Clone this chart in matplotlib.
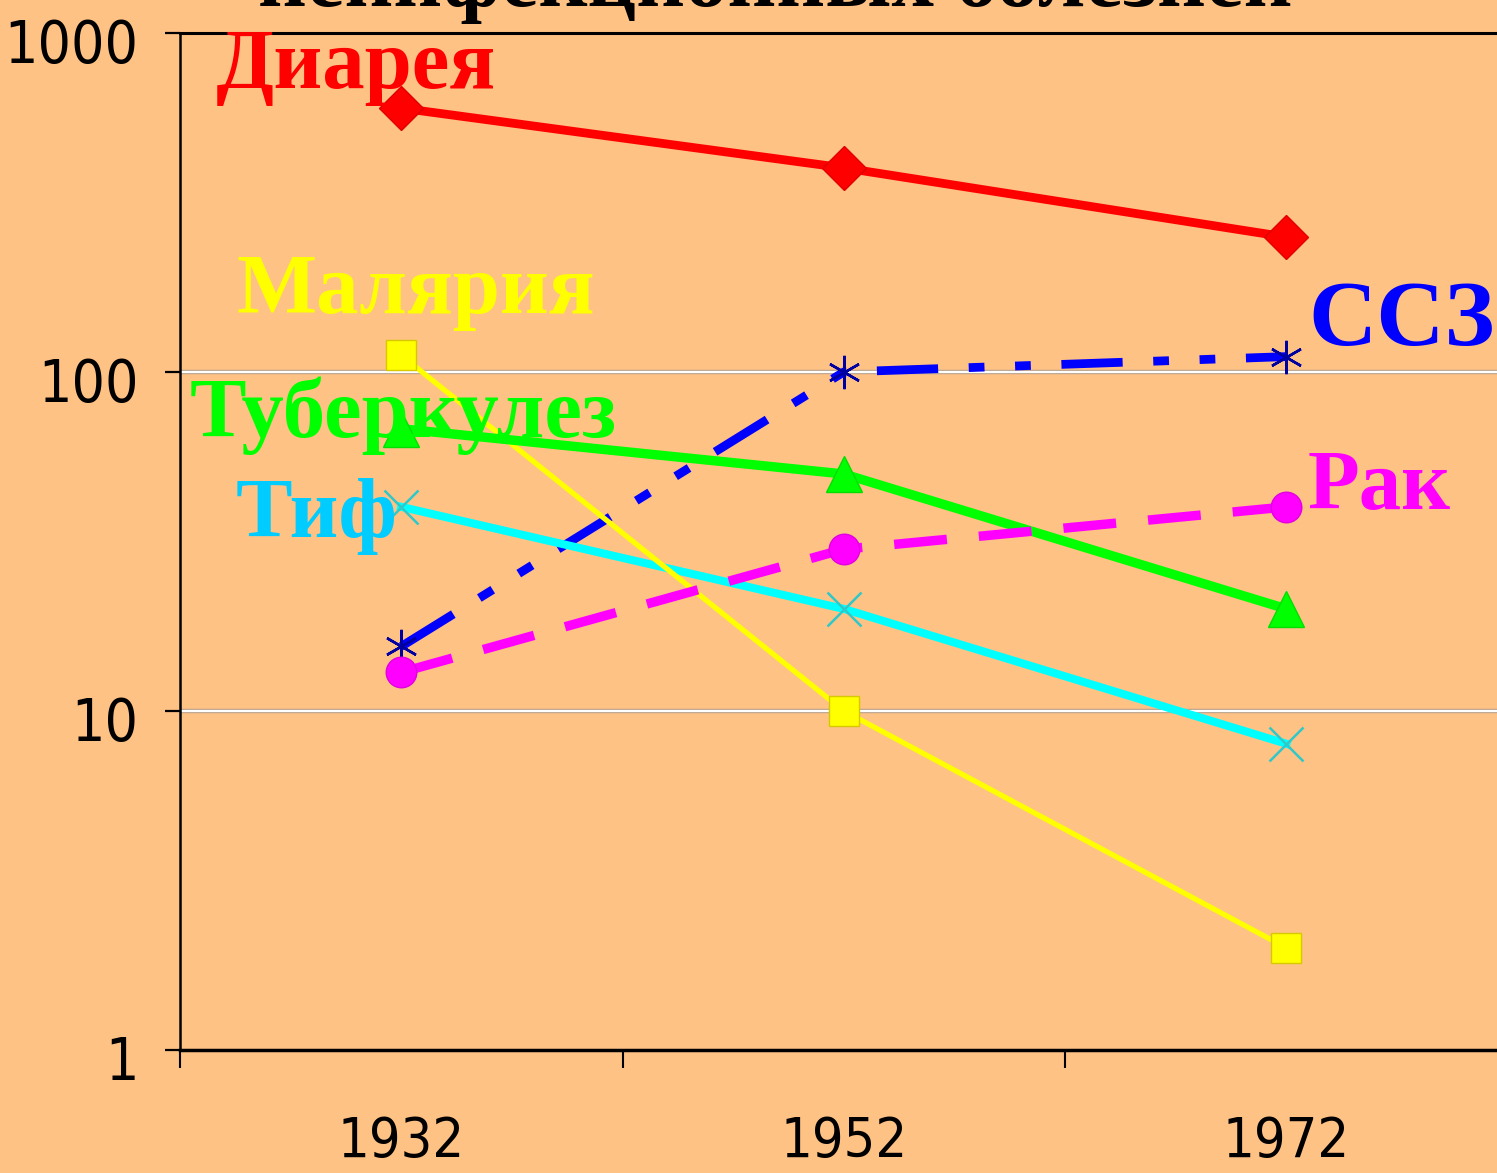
import matplotlib
matplotlib.use("Agg")
import matplotlib.pyplot as plt
import matplotlib.transforms as mtransforms
from matplotlib import font_manager
from matplotlib.font_manager import FontProperties

years = ["1932", "1952", "1972"]
diarrhea = [600, 400, 250]
malaria = [112, 10, 2]
cvd = [15.5, 100, 111]
tuberculosis = [68, 50, 20]
typhoid = [40, 20, 8]
cancer = [13, 30, 40]
y_ticks = [1, 10, 100, 1000]
y_tick_labels = ["1", "10", "100", "1000"]

bg = "#FFC285"

# pick a condensed sans font if one is installed
cond = None
pref = ["Liberation Sans Narrow", "Arial Narrow", "DejaVu Sans", "Roboto Condensed", "Roboto",
        "Open Sans Condensed", "Open Sans", "Noto Sans"]
cands = [f for f in font_manager.fontManager.ttflist
         if str(f.stretch) in ("condensed", "semi-condensed", "extra-condensed", "ultra-condensed")
         and str(f.style) == "normal" and f.weight in (400, "normal", "regular")]
cands.sort(key=lambda f: pref.index(f.name) if f.name in pref else 99)
for f in font_manager.fontManager.ttflist:
    if f.name in ("Liberation Sans Narrow", "Arial Narrow") and str(f.style) == "normal" and f.weight in (400, "normal", "regular"):
        cond = f.fname
        break
if cond is None and cands:
    cond = cands[0].fname
if cond:
    tickfp = FontProperties(fname=cond, size=40)
    tickfp_y = FontProperties(fname=cond, size=42)
else:
    tickfp = FontProperties(family="Liberation Sans", size=37)
    tickfp_y = FontProperties(family="Liberation Sans", size=38)

serif = ["Liberation Serif", "DejaVu Serif"]

fig = plt.figure(figsize=(14.97, 11.73), dpi=100, facecolor=bg)
ax = fig.add_axes([0.1202, 0.1049, 0.887, 0.867], facecolor=bg)
x = list(range(len(years)))

ax.set_yscale("log")
ax.set_ylim(1, 1000)
ax.set_xlim(-0.5, 2.5)

for v in [10, 100]:
    ax.axhline(v, color="#B8A088", lw=3.2, zorder=1)
    ax.axhline(v, color="white", lw=1.6, zorder=1.1)

ax.plot(x, diarrhea, color="#FF0000", lw=6.3, marker="D", ms=22, mfc="#FF0000", mec="#E00000", zorder=5)
ax.plot(x, malaria, color="#FFFF00", lw=3.8, marker="s", ms=22, mfc="#FFFF00", mec="#D8C800", mew=1, zorder=5)
ax.plot(x, cvd, color="#0000FF", lw=6.3, dashes=(7, 3.5, 1.8, 3.5, 1.8, 3.5), marker=(6, 2, 0), ms=24,
        mec="#0000A0", mew=1.8, zorder=4)
ax.plot(x, tuberculosis, color="#00FF00", lw=6.8, marker="^", ms=26, mfc="#00FF00", mec="#00E000", zorder=5)
ax.plot(x, typhoid, color="#00FFFF", lw=5.8, marker="x", ms=24, mec="#30C8C8", mew=1.8, zorder=4)
ax.plot(x, cancer, color="#FF00FF", lw=6.8, dashes=(5.6, 3.4), marker="o", ms=22, mfc="#FF00FF", mec="#E000E0", zorder=5)

ax.spines["right"].set_visible(False)
ax.spines["top"].set_linewidth(2.2)
ax.spines["left"].set_linewidth(1.8)
ax.spines["bottom"].set_linewidth(2.5)

ax.set_yticks(y_ticks)
ax.set_yticklabels(y_tick_labels, fontproperties=tickfp_y)
ax.yaxis.set_minor_locator(matplotlib.ticker.NullLocator())
ax.tick_params(axis="y", which="major", length=11, width=1.6, pad=19, direction="out")
off = mtransforms.ScaledTranslation(0, -0.08, fig.dpi_scale_trans)
for lab in ax.get_yticklabels():
    lab.set_transform(lab.get_transform() + off)

ax.set_xticks([-0.5, 0.5, 1.5, 2.5])
ax.set_xticklabels([])
ax.set_xticks(x, minor=True)
ax.set_xticklabels(years, minor=True, fontproperties=tickfp)
ax.tick_params(axis="x", which="major", length=13, width=1.5, direction="out")
ax.tick_params(axis="x", which="minor", length=0, pad=47)


def ftext(px, py, s, c, size=61):
    fig.text(px / 1497, 1 - py / 1173, s, color=c, family=serif, fontweight="bold",
             fontsize=size, va="baseline", ha="left", zorder=10)


ftext(216, 88, "Диарея", "#FF0000")
ftext(236, 313, "Малярия", "#FFFF00")
ftext(190, 437, "Туберкулез", "#00FF00")
ftext(236, 537, "Тиф", "#00CCFF")
ftext(1308, 345, "ССЗ", "#0000FF", 68)
ftext(1308, 509, "Рак", "#FF00FF")

fig.text(775 / 1497, 1 - 6 / 1173, "неинфекционных болезней", color="black", family=serif,
         fontweight="bold", fontsize=61, ha="center", va="baseline")

fig.savefig("out.png", dpi=100, facecolor=bg)
